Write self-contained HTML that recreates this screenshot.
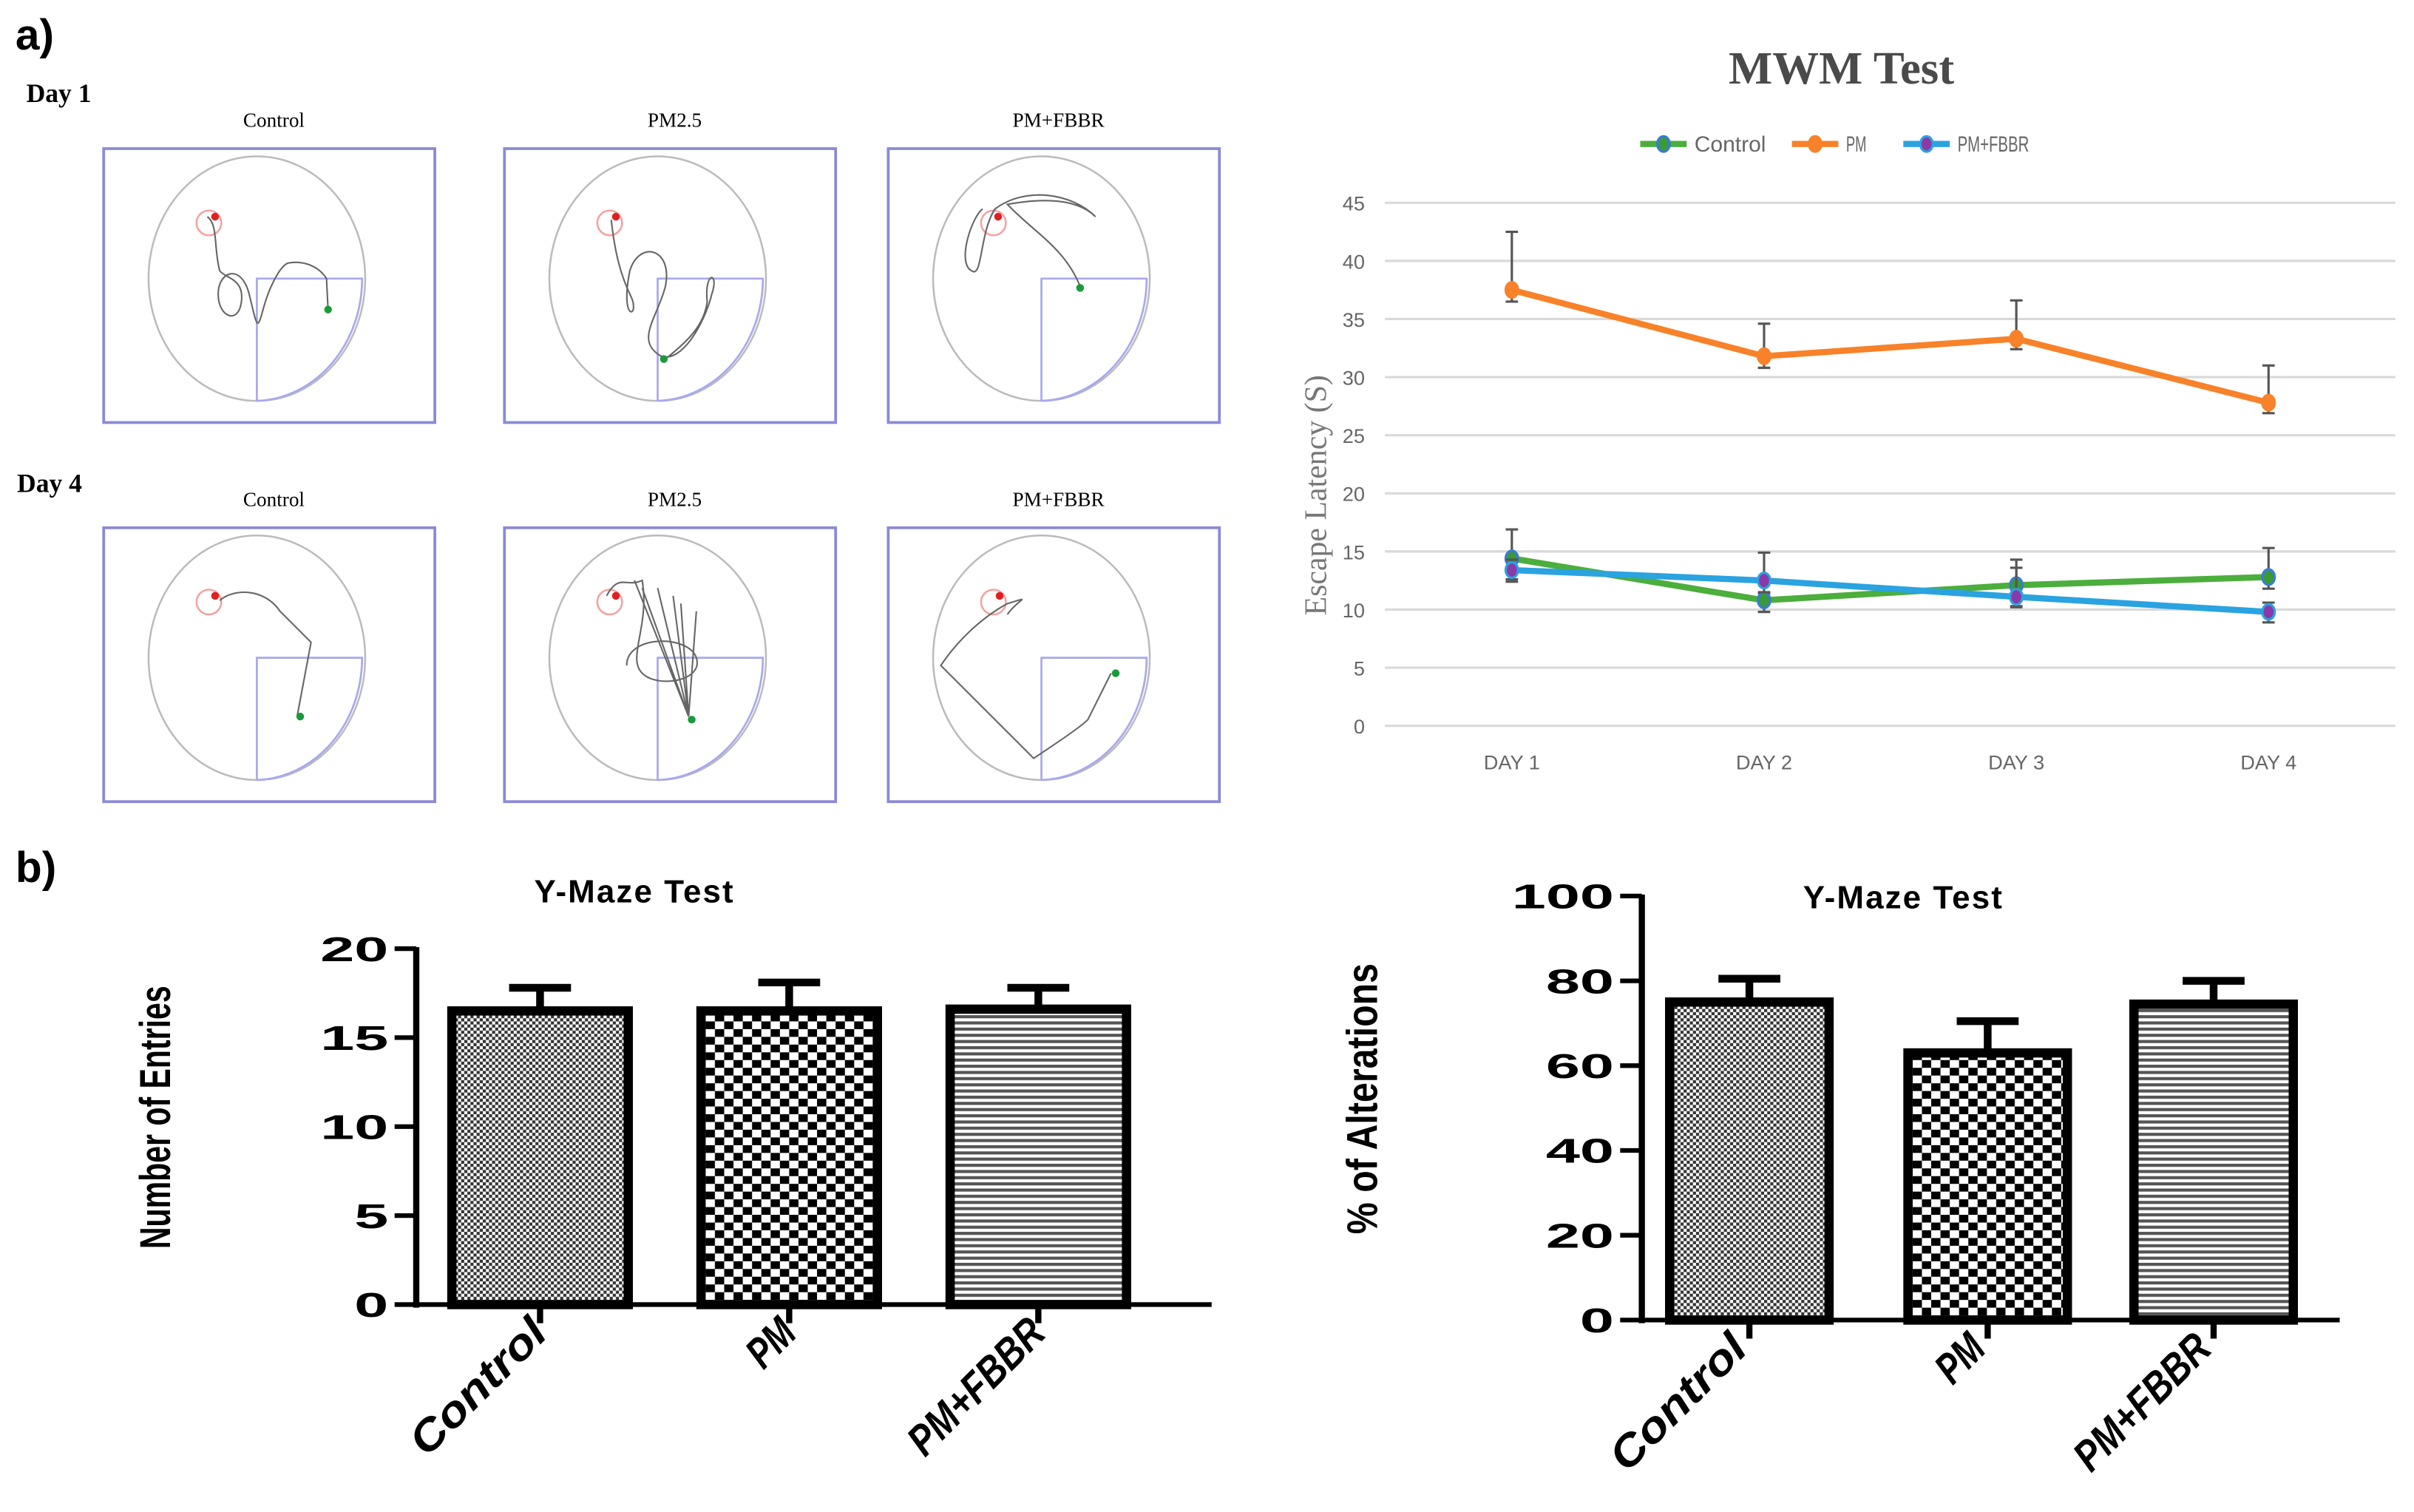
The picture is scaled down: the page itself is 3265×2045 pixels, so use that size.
<!DOCTYPE html>
<html><head><meta charset="utf-8"><style>
html,body{margin:0;padding:0;background:#fff}
svg{display:block}
text{font-family:"Liberation Sans",sans-serif}
.serif{font-family:"Liberation Serif",serif}
</style></head><body>
<svg id="fig" width="3265" height="2045" viewBox="0 0 1560 977" xmlns="http://www.w3.org/2000/svg">
<defs>
<pattern id="pCtrl" width="4" height="4" patternUnits="userSpaceOnUse"><rect width="4" height="4" fill="#fff"/><rect width="2" height="2" fill="#333"/><rect x="2" y="2" width="2" height="2" fill="#333"/></pattern>
<pattern id="pPM" width="12" height="10" patternUnits="userSpaceOnUse"><rect width="12" height="10" fill="#fff"/><rect width="6" height="5" fill="#000"/><rect x="6" y="5" width="6" height="5" fill="#000"/></pattern>
<pattern id="pFB" width="4" height="4" patternUnits="userSpaceOnUse"><rect width="4" height="4" fill="#fff"/><rect width="4" height="2" fill="#555"/></pattern>
</defs>
<text x="10" y="32" font-size="28" font-weight="bold">a)</text>
<text x="10" y="570" font-size="28" font-weight="bold">b)</text>
<text class="serif" x="17" y="66" font-size="17" font-weight="bold">Day 1</text>
<text class="serif" x="11" y="318" font-size="17" font-weight="bold">Day 4</text>
<g id="mazes"></g>
<g id="line"></g>
<g id="bar1"></g>
<g id="bar2"></g>
</svg>
<script>
const NS="http://www.w3.org/2000/svg";
function mk(parent,tag,attrs,txt){const e=document.createElementNS(NS,tag);for(const k in attrs)e.setAttribute(k,attrs[k]);if(txt!==undefined)e.textContent=txt;parent.appendChild(e);return e;}

// ---------- Line chart data ----------
const days=["DAY 1","DAY 2","DAY 3","DAY 4"];
const yTicks=[0,5,10,15,20,25,30,35,40,45];
const pmVals=[37.5,31.8,33.3,27.8];
const pmUp=[42.5,34.6,36.6,31.0];
const pmLo=[36.5,30.8,32.4,26.9];
const ctrlVals=[14.4,10.8,12.1,12.8];
const ctrlUp=[16.9,11.4,14.3,15.3];
const ctrlLo=[12.4,9.8,10.2,11.8];
const fbVals=[13.4,12.5,11.1,9.8];
const fbUp=[14.3,14.9,13.6,10.6];
const fbLo=[12.6,11.5,10.3,8.9];

// ---------- Bar chart data ----------
const barCats=["Control","PM","PM+FBBR"];
const entriesVals=[16.5,16.5,16.6];
const entriesErr=[17.8,18.1,17.8];
const entriesTicks=[0,5,10,15,20];
const altVals=[75,63,74.5];
const altErr=[80.5,70.5,80];
const altTicks=[0,20,40,60,80,100];

// ---------- Line chart ----------
(function(){
  const g=document.getElementById('line');
  const x0=895,x1=1548,yb=469,yt=131;
  const ys=v=>yb-(v/45)*(yb-yt);
  const xs=i=>977+i*163;
  mk(g,'text',{x:1190,y:54,'font-size':30,'font-weight':'bold','text-anchor':'middle',fill:'#4a4a4a',class:'serif',},'MWM Test');
  yTicks.forEach(t=>{
    const l=mk(g,'line',{x1:x0,x2:x1,y1:ys(t),y2:ys(t),stroke:'#d9d9d9','stroke-width':1.5});
    
    const tx=mk(g,'text',{x:882,y:ys(t)+5,'font-size':13,'text-anchor':'end',fill:'#666'},String(t));
    
  });
  days.forEach((d,i)=>{const t=mk(g,'text',{x:xs(i),y:497,'font-size':13,'text-anchor':'middle',fill:'#666'},d);
    });
  const yl=mk(g,'text',{x:0,y:0,'font-size':20,'text-anchor':'middle',fill:'#777',class:'serif',transform:'translate(857,320) rotate(-90)'},'Escape  Latency  (S)');
  
  const series=[
    {name:'pm',v:pmVals,u:pmUp,l:pmLo,c:'#f7822a',m:'#f7822a'},
    {name:'control',v:ctrlVals,u:ctrlUp,l:ctrlLo,c:'#4cae3c',m:'#3a9a3a',r:'#3a7bd5'},
    {name:'pm-fbbr',v:fbVals,u:fbUp,l:fbLo,c:'#2aa3e0',m:'#8a3aa8',r:'#2aa3e0'}];
  series.forEach(s=>{
    s.v.forEach((v,i)=>{
      const e=mk(g,'path',{d:`M${xs(i)},${ys(s.u[i])}V${ys(s.l[i])}M${xs(i)-4},${ys(s.u[i])}h8M${xs(i)-4},${ys(s.l[i])}h8`,stroke:'#555','stroke-width':1.5,fill:'none'});
      
    });
    const p=mk(g,'polyline',{points:s.v.map((v,i)=>xs(i)+','+ys(v)).join(' '),fill:'none',stroke:s.c,'stroke-width':4});
    
    s.v.forEach((v,i)=>{const c=mk(g,'ellipse',{cx:xs(i),cy:ys(v),rx:4,ry:5,fill:s.m,stroke:s.r||s.c,'stroke-width':1.5});
      });
  });
  const leg=[['Control',1060,'#4cae3c','#3a9a3a','#3a7bd5'],['PM',1158,'#f7822a','#f7822a','#f7822a'],['PM+FBBR',1230,'#2aa3e0','#8a3aa8','#2aa3e0']];
  leg.forEach(([n,x,c,m,r])=>{
    const lg=mk(g,'g',{});
    
    mk(lg,'line',{x1:x,x2:x+30,y1:93,y2:93,stroke:c,'stroke-width':4});
    mk(lg,'ellipse',{cx:x+15,cy:93,rx:4,ry:5,fill:m,stroke:r,'stroke-width':1.5});
    mk(lg,'text',{x:x+35,y:98,'font-size':14,fill:'#666',textLength:n.length*6.6,lengthAdjust:'spacingAndGlyphs'},n);
  });
})();

// ---------- Bar charts ----------
function barChart(id,o){
  const g=document.getElementById(id);
  const ys=v=>o.yb-(v/o.max)*(o.yb-o.yt);
  mk(g,'text',{x:o.titleX,y:o.titleY,'font-size':21,'font-weight':'bold','text-anchor':'middle','letter-spacing':'1',},'Y-Maze Test');
  mk(g,'line',{x1:o.ax,x2:o.ax,y1:o.yt-1,y2:o.yb+2,stroke:'#000','stroke-width':4,});
  mk(g,'line',{x1:o.ax,x2:o.xe,y1:o.yb,y2:o.yb,stroke:'#000','stroke-width':3,});
  o.ticks.forEach(t=>{
    const l=mk(g,'line',{x1:o.ax-14,x2:o.ax,y1:ys(t),y2:ys(t),stroke:'#000','stroke-width':3});
    
    const s=String(t);
    const tx=mk(g,'text',{x:o.ax-18,y:ys(t)+8,'font-size':22,'font-weight':'bold','text-anchor':'end',textLength:s.length*22,lengthAdjust:'spacingAndGlyphs'},s);
    
  });
  const fills=['url(#pCtrl)','url(#pPM)','url(#pFB)'];
  o.vals.forEach((v,i)=>{
    const x=o.bx[i],w=o.bw,cx=x+w/2;
    const e=mk(g,'path',{d:`M${cx},${ys(v)}V${ys(o.err[i])}M${cx-20},${ys(o.err[i])}h40`,stroke:'#000','stroke-width':5,fill:'none'});
    
    const r=mk(g,'rect',{x:x,y:ys(v),width:w,height:o.yb-ys(v),fill:fills[i],stroke:'#000','stroke-width':6});
    
    const tk=mk(g,'line',{x1:cx,x2:cx,y1:o.yb,y2:o.yb+12,stroke:'#000','stroke-width':4});
    
    const lx=cx+o.lblDx,ly=o.yb+20;
    const tl=mk(g,'text',{x:0,y:0,'font-size':28,'font-weight':'bold','font-style':'italic','text-anchor':'end',textLength:o.cats[i].length*16,lengthAdjust:'spacingAndGlyphs',transform:`translate(${lx},${ly}) rotate(-45)`},o.cats[i]);
    
  });
  const yl=mk(g,'text',{x:0,y:0,'font-size':28,'font-weight':'bold','text-anchor':'middle',textLength:o.ylLen,lengthAdjust:'spacingAndGlyphs',transform:`translate(${o.ylX},${o.ylY}) rotate(-90)`},o.ylabel);
  
}
barChart('bar1',{ax:269,xe:783,yt:613,yb:843,max:20,ticks:entriesTicks,vals:entriesVals,err:entriesErr,cats:barCats,bx:[292,453,614],bw:114,titleX:410,titleY:583,lblDx:6,ylabel:'Number of Entries',ylX:110,ylY:722,ylLen:170});
barChart('bar2',{ax:1061,xe:1512,yt:579,yb:853,max:100,ticks:altTicks,vals:altVals,err:altErr,cats:barCats,bx:[1079,1233,1379],bw:103,titleX:1230,titleY:587,lblDx:0,ylabel:'% of Alterations',ylX:890,ylY:710,ylLen:175});

// ---------- Maze tracks ----------
(function(){
  const g=document.getElementById('mazes');
  const cols=[67,326,574], rows=[96,341], titles=['Control','PM2.5','PM+FBBR'];
  const paths=[
    ['M-32,-40 C-25,-35 -28,-20 -24,-5 C-20,0 -8,0 -10,15 C-12,30 -25,25 -25,10 C-25,-5 -10,-10 -5,10 C0,30 0,35 4,20 C8,5 15,-8 20,-10 C30,-12 40,-8 45,0 L46,20',
     'M-30,-38 C-28,-20 -25,-5 -18,10 C-10,25 -25,30 -18,-5 C-12,-25 10,-20 5,5 C0,25 -15,40 2,50 C15,55 30,30 35,10 C40,-5 30,-5 32,15 C30,30 20,40 5,52',
     'M-38,-45 C-45,-40 -55,-10 -45,-5 C-38,0 -40,-30 -30,-45 C-10,-60 20,-55 35,-40 C20,-55 -10,-50 -22,-48 C-5,-30 15,-20 25,5'],
    ['M-24,-37 C-15,-45 5,-45 15,-30 C25,-20 30,-15 35,-10 L26,38',
     'M-33,-40 C-25,-55 -20,-45 -10,-50 C-5,-20 -20,0 -10,10 C0,20 30,15 25,0 C20,-15 -20,-15 -20,5 M-10,-45 L20,38 M0,-45 L20,38 M10,-40 L20,38 M15,-35 L20,38 M25,-30 L20,38 M-15,-50 L20,38',
     'M-22,-28 C-15,-38 -5,-40 -22,-35 C-40,-25 -55,-10 -65,5 C-40,30 -20,50 -5,65 C10,55 25,45 30,40 L45,10']
  ];
  const ends=[[[46,20],[4,52],[25,6]],[[28,38],[22,40],[48,10]]];
  rows.forEach((ry,r)=>{
    cols.forEach((cx0,c)=>{
      const h=177;
      const bg=mk(g,'g',{});
      
      
      mk(bg,'text',{x:cx0+110,y:ry-14,'font-size':13,'text-anchor':'middle',class:'serif'},titles[c]);
      mk(bg,'rect',{x:cx0,y:ry,width:214,height:h,fill:'none',stroke:'#8a8ad8','stroke-width':1.8});
      const ccx=cx0+99,ccy=ry+84;
      mk(bg,'ellipse',{cx:ccx,cy:ccy,rx:70,ry:79,fill:'none',stroke:'#bbb','stroke-width':1.2});
      mk(bg,'path',{d:`M${ccx},${ccy+79}V${ccy}H${ccx+68} A70,79 0 0 1 ${ccx},${ccy+79}`,fill:'none',stroke:'#a8a8f0','stroke-width':1.3});
      mk(bg,'circle',{cx:ccx-31,cy:ccy-36,r:8,fill:'none',stroke:'#f5a0a0','stroke-width':1.2});
      mk(bg,'path',{d:paths[r][c],transform:`translate(${ccx},${ccy})`,fill:'none',stroke:'#666','stroke-width':1});
      mk(bg,'circle',{cx:ccx-31+(c===2&&r===0?3:4),cy:ccy-40,r:2.5,fill:'#e02020'});
      mk(bg,'circle',{cx:ccx+ends[r][c][0],cy:ccy+ends[r][c][1],r:2.5,fill:'#1a9a3a'});
    });
  });
})();
</script>
</body></html>
